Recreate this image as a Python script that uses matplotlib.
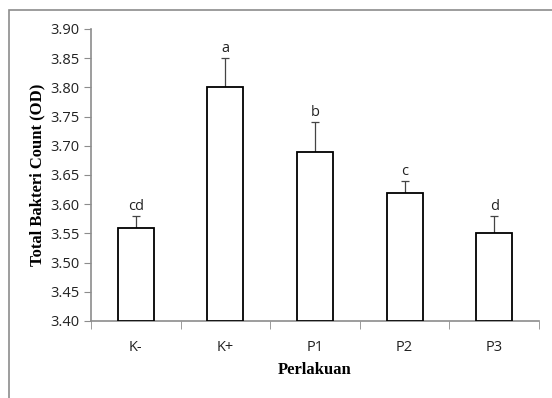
import matplotlib.pyplot as plt
from matplotlib.patches import Rectangle

# data
perlakuan = ['K-', 'K+', 'P1', 'P2', 'P3']
rata_rata = [3.56, 3.80, 3.69, 3.62, 3.55]
galat = [0.02, 0.05, 0.05, 0.02, 0.03]
notasi = ['cd', 'a', 'b', 'c', 'd']

fig = plt.figure(figsize=(5.52, 3.98), dpi=100)
ax = fig.add_axes([91/552, 1 - 321/398, 448/552, 292/398])

# outer frame (only top and left visible in the picture)
fig.patches.append(Rectangle((9/552, -0.1), 1.2, 1 - 10/398 + 0.1,
                             transform=fig.transFigure, fill=False,
                             edgecolor='#8c8c8c', linewidth=1.2))

x = list(range(len(perlakuan)))
ax.bar(x, [v - 3.40 for v in rata_rata], bottom=3.40, width=0.4,
       color='white', edgecolor='black', linewidth=1.3, zorder=3)
ax.errorbar(x, rata_rata, yerr=[[0] * len(galat), galat], fmt='none',
            ecolor='#444444', elinewidth=0.9, capsize=3, capthick=0.9, zorder=2)

for xi, v, e, n in zip(x, rata_rata, galat, notasi):
    ax.text(xi, v + e + 0.004, n, ha='center', va='bottom',
            fontsize=10.5, family='Open Sans', color='#222222')

ax.set_xlim(-0.5, 4.5)
ax.set_ylim(3.40, 3.90)
ax.set_yticks([3.40 + 0.05 * i for i in range(11)])
ax.set_yticklabels([f'{3.40 + 0.05 * i:.2f}' for i in range(11)])
ax.set_xticks(x)
ax.set_xticklabels(perlakuan)
ax.set_xticks([i - 0.5 for i in range(6)], minor=True)
ax.tick_params(axis='x', which='major', length=0, pad=14)
ax.tick_params(axis='x', which='minor', length=6, color='#8c8c8c', direction='out')
ax.tick_params(axis='y', length=5, color='#8c8c8c', direction='out', pad=3)
for lab in ax.get_xticklabels() + ax.get_yticklabels():
    lab.set_family('Open Sans')
    lab.set_fontsize(10.5)
    lab.set_color('#222222')

for s in ['top', 'right']:
    ax.spines[s].set_visible(False)
for s in ['left', 'bottom']:
    ax.spines[s].set_color('#8c8c8c')
    ax.spines[s].set_linewidth(1.2)

ax.set_xlabel('Perlakuan', family='Liberation Serif', fontweight='bold',
              fontsize=12, labelpad=5)
ax.set_ylabel('Total Bakteri Count (OD)', family='Liberation Serif',
              fontweight='bold', fontsize=12, labelpad=4)

fig.savefig('out.png', dpi=100)
